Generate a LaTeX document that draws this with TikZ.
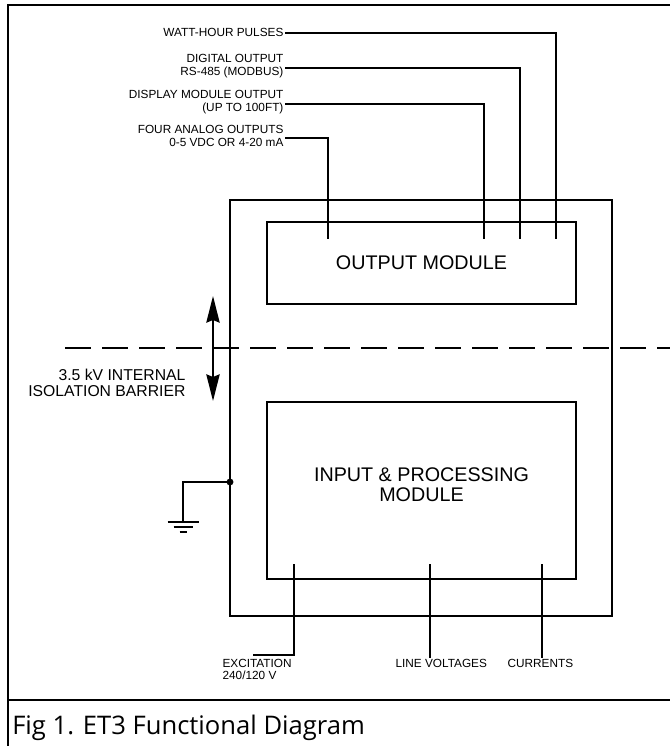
\documentclass[tikz,border=0pt]{standalone}
\usepackage{fontspec}
\setmainfont{Liberation Sans}
\newfontfamily\capfont{Open Sans}
\usetikzlibrary{arrows.meta}

\begin{document}
\begin{tikzpicture}[
  x=0.75pt, y=-0.75pt,
  every node/.style={inner sep=1pt},
  frame/.style={line width=1.5pt},
  module/.style={draw, line width=1.1pt},
  wire/.style={line width=1.25pt},
  lbl/.style={font=\fontsize{8.85}{9.75}\selectfont, align=right, anchor=east},
  botlbl/.style={font=\fontsize{8.85}{9}\selectfont, align=left, anchor=north west},
  modtext/.style={font=\fontsize{14.8}{15}\selectfont, align=center},
  isoline/.style={line width=1.25pt, dash pattern=on 19.5pt off 8.25pt},
  isoarrow/.style={{Stealth[length=20pt, width=10pt, inset=2pt]}-{Stealth[length=20pt, width=10pt, inset=2pt]}, line width=1.25pt},
]
\useasboundingbox (0,0) rectangle (670,746);

% Frame and caption
\draw[frame] (8,746) -- (8,5) -- (670,5);
\draw[frame] (8,700) -- (670,700);
\node[anchor=base west, inner sep=0, font=\capfont\fontsize{19.2}{23}\selectfont] (cap) at (12,734)
  {Fig 1. ET3 Functional Diagram};

% Case and modules
\node[module, minimum width=286.5pt, minimum height=312pt] (case) at (421,408) {};
\node[module, modtext, minimum width=231.75pt, minimum height=61.5pt] (outmod) at (421.5,263)
  {OUTPUT MODULE};
\node[module, minimum width=231.75pt, minimum height=132.75pt] (inmod) at (421.5,490.5) {};
\node[modtext] (intext) at (421.5,485) {INPUT \& PROCESSING\\MODULE};

% Output labels
\node[lbl] (watt)  at (285,32.7) {WATT-HOUR PULSES};
\node[lbl] (dig)   at (285,66)   {DIGITAL OUTPUT\\RS-485 (MODBUS)};
\node[lbl] (disp)  at (285,102)  {DISPLAY MODULE OUTPUT\\(UP TO 100FT)};
\node[lbl] (analog) at (285,136) {FOUR ANALOG OUTPUTS\\0-5 VDC OR 4-20 mA};

\coordinate (analog-in) at (328,239);
\coordinate (disp-in)   at (484,239);
\coordinate (dig-in)    at (520,239);
\coordinate (watt-in)   at (556,239);

\draw[wire] (watt.east) -| (watt-in);
\draw[wire] ([yshift=-1.5pt]dig.east) -| (dig-in);
\draw[wire] ([yshift=-1.5pt]disp.east) -| (disp-in);
\draw[wire] ([yshift=-1.5pt]analog.east) -| (analog-in);

% Input labels
\node[botlbl] (exc)  at (221,658) {EXCITATION\\240/120 V};
\node[botlbl] (lv)   at (394,658) {LINE VOLTAGES};
\node[botlbl] (curr) at (506,658) {CURRENTS};

\coordinate (exc-in)  at (294,564);
\coordinate (lv-in)   at (430,564);
\coordinate (curr-in) at (542,564);
\coordinate (exc-end) at (253,655);

\draw[wire] (exc-in) |- (exc-end);
\draw[wire] (lv-in) -- (lv-in |- lv.north);
\draw[wire] (curr-in) -- (curr-in |- curr.north);

% Isolation barrier
\coordinate (iso-l) at (65,348);
\coordinate (iso-r) at (670,348);
\draw[isoline] (iso-l) -- (iso-r);
\coordinate (iso-top) at (213,296);
\coordinate (iso-bot) at (213,401);
\draw[isoarrow] (iso-top) -- (iso-bot);
\node[anchor=east, align=right, font=\fontsize{11.8}{12}\selectfont] (isolbl) at (187,382.5)
  {3.5 kV INTERNAL\\ISOLATION BARRIER};

% Ground
\coordinate (gtap) at (230,482);
\coordinate (gnd)  at (183,522);
\fill (gtap) circle (2.6pt);
\draw[wire] (gtap) -| (gnd);
\draw[wire] (gnd) ++(-15.5,0) -- ++(31,0)
            (gnd) ++(-9.5,5) -- ++(19,0)
            (gnd) ++(-3.5,10) -- ++(7,0);
\end{tikzpicture}
\end{document}
